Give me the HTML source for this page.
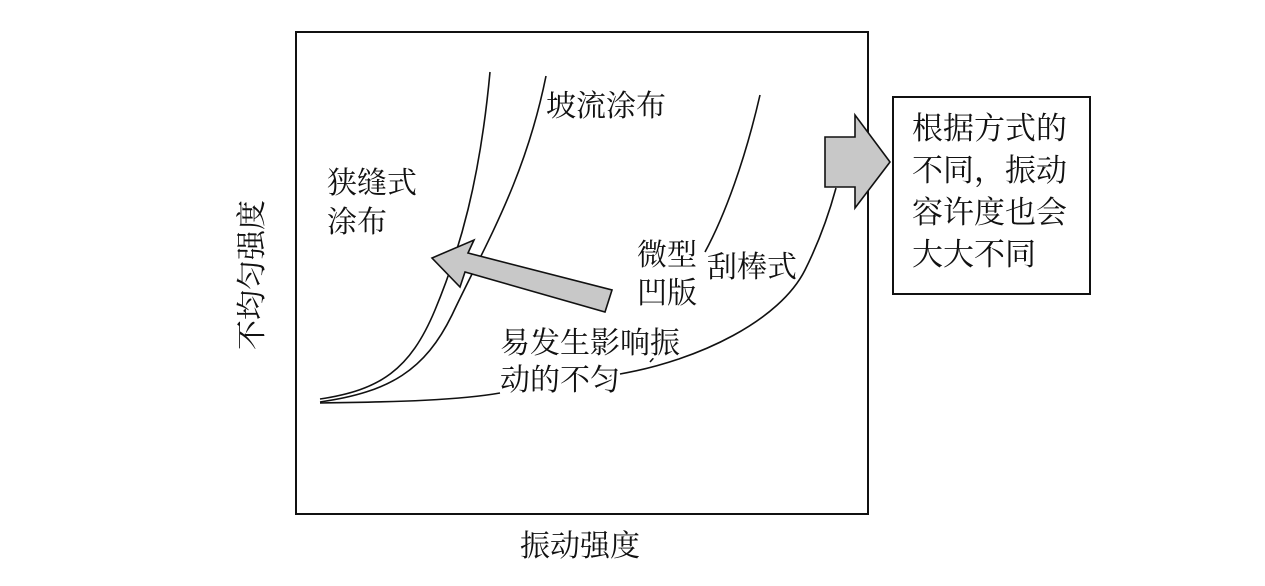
<!DOCTYPE html>
<html><head><meta charset="utf-8"><style>
html,body{margin:0;padding:0;background:#fff;}
svg{display:block;}
text{font-family:"Liberation Serif","Noto Serif CJK SC",serif;font-size:30px;fill:#111;}
.k{stroke:#fff;stroke-width:6px;paint-order:stroke;stroke-linejoin:round;}
</style></head><body>
<svg width="1265" height="586" viewBox="0 0 1265 586" xmlns="http://www.w3.org/2000/svg">
<rect x="296" y="32" width="572" height="482" fill="#fff" stroke="#111" stroke-width="2"/>
<g fill="none" stroke="#111" stroke-width="1.6">
<path d="M320,399 C380,390 410,370 435,310 C460,250 480,180 490,72"/>
<path d="M320,402 C390,392 425,370 452,315 C485,245 525,180 546,76"/>
<path d="M320,403 C400,402 460,400 500,393"/>
<path d="M600,385 L612,375 M650,362 L666,344"/>
<path d="M705,252 C725,215 745,160 760,95"/>
<path d="M620,374 C700,360 780,320 805,270 C820,240 830,210 836,188"/>
</g>
<polygon points="612,290 605,312 465,272 460,287 432,258 474,240 468,253" fill="#c8c8c8" stroke="#111" stroke-width="1.6"/>
<polygon points="825,137 855,137 855,115 890,162 855,208 855,187 825,187" fill="#c8c8c8" stroke="#111" stroke-width="1.6"/>
<rect x="893" y="97" width="197" height="197" fill="#fff" stroke="#111" stroke-width="2"/>
<text x="546" y="116">坡流涂布</text>
<text x="327" y="193">狭缝式</text>
<text x="327" y="232">涂布</text>
<text class="k" x="637" y="265">微型</text>
<text class="k" x="637" y="303">凹版</text>
<text x="707" y="277">刮棒式</text>
<text class="k" x="500" y="353">易发生影响振</text>
<text class="k" x="500" y="390">动的不匀</text>
<text x="912" y="139" style="font-size:31px">根据方式的</text>
<text x="912" y="181" style="font-size:31px">不同，振动</text>
<text x="912" y="223" style="font-size:31px">容许度也会</text>
<text x="912" y="265" style="font-size:31px">大大不同</text>
<text x="520" y="556">振动强度</text>
<text transform="translate(262,275) rotate(-90)" text-anchor="middle">不均匀强度</text>
</svg>
</body></html>
